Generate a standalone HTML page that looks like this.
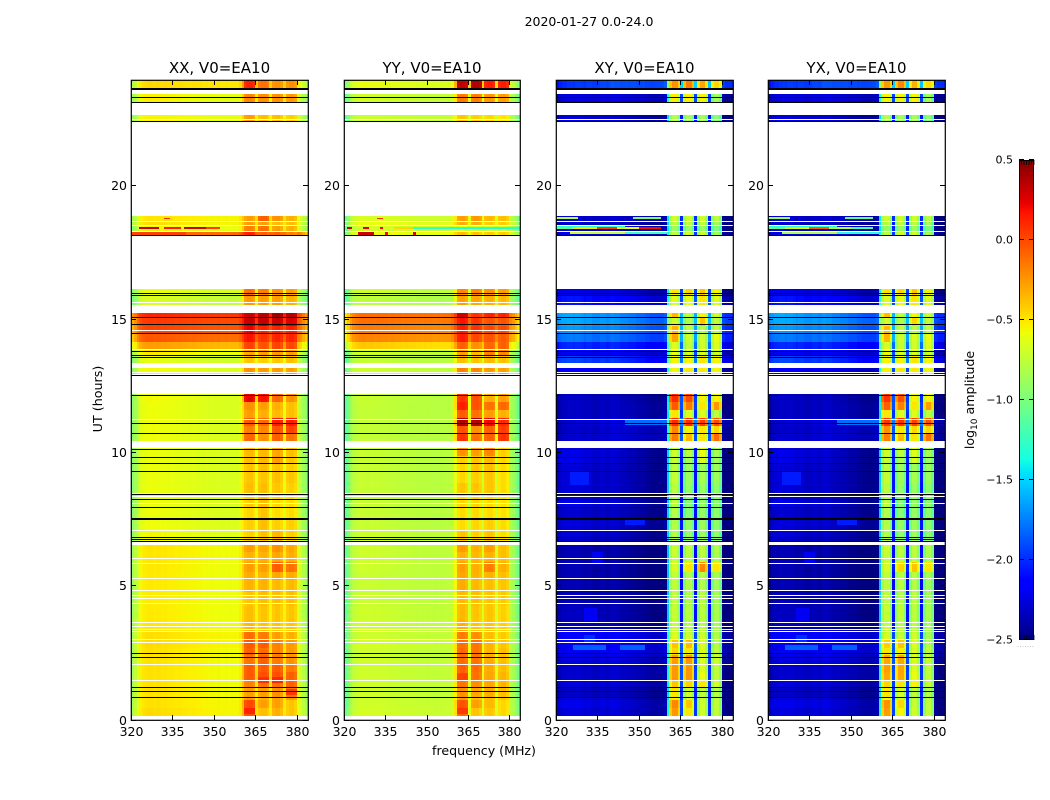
<!DOCTYPE html>
<html>
<head>
<meta charset="utf-8">
<title>2020-01-27 0.0-24.0</title>
<style>
html,body{margin:0;padding:0;background:#fff;}
svg{display:block;}
text{font-family:"DejaVu Sans","Liberation Sans",sans-serif;fill:#000;}
</style>
</head>
<body>
<svg id="chart" xmlns="http://www.w3.org/2000/svg" width="1050" height="800" viewBox="0 0 1050 800">
  <rect x="0" y="0" width="1050" height="800" fill="#fff"/>
  <text x="589" y="26" font-size="12.5" text-anchor="middle">2020-01-27 0.0-24.0</text>
  <text x="0" y="0" font-size="12.7" text-anchor="middle" transform="translate(102,399) rotate(-90)">UT (hours)</text>
  <text x="484" y="755" font-size="12.6" text-anchor="middle">frequency (MHz)</text>
  <text x="0" y="0" font-size="12.6" text-anchor="middle" transform="translate(974,400) rotate(-90)">log<tspan font-size="9" dy="3">10</tspan><tspan dy="-3"> amplitude</tspan></text>
</svg>
<script>
// ---- shared axes data ----
const panelTitles = ["XX, V0=EA10", "YY, V0=EA10", "XY, V0=EA10", "YX, V0=EA10"];
const xTickValues = [320, 335, 350, 365, 380];
const yTickValues = [0, 5, 10, 15, 20];
const colorbarTicks = [-2.5, -2.0, -1.5, -1.0, -0.5, 0.0, 0.5];
const colorbarTickLabels = ["\u22122.5", "\u22122.0", "\u22121.5", "\u22121.0", "\u22120.5", "0.0", "0.5"];

// ---- time rows (UT hour at which each row starts); last row ends at 24 ----
const rowStarts = [.15,.45,.75,.86,1.2,1.5,1.8,2.1,2.44,2.7,3.0,3.3,3.75,4.27,4.8,5.25,5.55,5.92,6.3,6.71,7.12,7.54,7.99,8.44,8.89,9.34,9.64,9.9,10.24,10.46,10.76,11.02,11.32,11.62,11.92,12.22,12.97,13.2,13.39,13.65,13.91,14.17,14.47,14.77,15.07,15.26,15.52,15.9,16.2,18.19,18.33,18.56,18.67,18.9,22.46,22.7,23.17,23.47,23.7];

// ---- log10 amplitude per row: [320 MHz level, 360 MHz level, band1, band2, band3, band4] ----
const xxRows = [
[-.48,-.56,-.05,-.4,-.35,-.42],[-.5,-.56,-.02,-.3,-.3,-.42],[-.5,-.58,-.3,-.36,-.3,-.28],[-.5,-.58,-.3,-.3,-.25,-.15],[-.5,-.58,-.2,-.16,-.14,-.1],
[-.5,-.58,-.08,-.04,-.04,-.1],[-.5,-.58,-.08,-.08,-.08,-.18],[-.5,-.58,-.16,-.1,-.18,-.26],[-.49,-.58,-.1,-.14,-.2,-.28],[-.48,-.56,-.08,-.08,-.2,-.28],
[-.49,-.56,-.14,-.18,-.3,-.35],[-.52,-.58,-.38,-.42,-.42,-.42],[-.53,-.59,-.4,-.42,-.42,-.42],[-.54,-.59,-.42,-.4,-.4,-.4],[-.53,-.59,-.36,-.36,-.38,-.38],
[-.53,-.59,-.34,-.36,-.32,-.34],[-.52,-.59,-.3,-.3,-.08,-.15],[-.52,-.58,-.36,-.36,-.32,-.35],[-.51,-.58,-.3,-.32,-.25,-.33],[-.58,-.64,-.46,-.42,-.38,-.45],
[-.6,-.65,-.45,-.4,-.45,-.45],[-.6,-.66,-.48,-.42,-.5,-.5],[-.61,-.66,-.45,-.4,-.48,-.5],[-.61,-.66,-.4,-.4,-.42,-.45],[-.61,-.66,-.42,-.42,-.4,-.42],
[-.61,-.66,-.42,-.4,-.42,-.45],[-.61,-.66,-.4,-.38,-.3,-.42],[-.61,-.66,-.38,-.38,-.32,-.4],null,[-.6,-.66,-.12,-.25,-.1,-.15],
[-.6,-.66,-.2,-.22,-.05,.0],[-.6,-.66,-.08,-.12,.12,.12],[-.6,-.66,-.3,-.35,-.38,-.4],[-.6,-.66,-.25,-.3,-.35,-.4],[-.58,-.66,.2,.15,-.12,-.25],
null,[-.58,-.66,-.25,-.28,-.28,-.3],null,[-.62,-.7,-.42,-.45,-.42,-.4],[-.52,-.6,-.32,-.3,-.28,-.3],
[-.28,-.36,.0,-.05,.0,-.02],[-.06,-.12,.15,.05,.1,.1],[.0,-.04,.2,.1,.1,.12],[.03,.0,.3,.3,.3,.25],[.1,.06,.28,.32,.4,.35],
null,[-.68,-.75,-.28,-.3,-.3,-.35],[-.62,-.68,-.15,-.2,-.25,-.3],null,[-.12,-.1,.1,-.1,-.1,-.2],
[-.58,-.6,-.2,-.15,-.3,-.35],[-.5,-.55,-.3,-.3,-.4,-.4],[-.52,-.55,-.3,-.1,-.25,-.35],null,[-.56,-.62,-.3,-.4,-.4,-.45],
null,[-.55,-.62,-.22,-.25,-.25,-.28],null,[-.48,-.5,.1,-.15,-.25,-.25]];

const yyRows = [
[-.7,-.72,-.12,-.42,-.42,-.48],[-.72,-.72,-.05,-.3,-.38,-.48],[-.72,-.74,-.3,-.4,-.4,-.42],[-.72,-.74,-.25,-.32,-.34,-.4],[-.72,-.74,-.16,-.24,-.32,-.37],
[-.72,-.74,-.1,-.16,-.32,-.37],[-.72,-.74,-.1,-.14,-.34,-.4],[-.72,-.74,-.14,-.16,-.34,-.4],[-.72,-.74,-.12,-.16,-.37,-.4],[-.7,-.72,-.14,-.16,-.37,-.42],
[-.72,-.74,-.18,-.24,-.4,-.44],[-.72,-.75,-.35,-.42,-.42,-.46],[-.72,-.75,-.38,-.42,-.42,-.46],[-.74,-.76,-.38,-.4,-.42,-.44],[-.74,-.76,-.34,-.38,-.4,-.42],
[-.74,-.76,-.32,-.36,-.36,-.4],[-.72,-.76,-.3,-.35,-.2,-.35],[-.72,-.76,-.36,-.38,-.36,-.4],[-.72,-.76,-.28,-.36,-.3,-.4],[-.72,-.76,-.42,-.46,-.42,-.5],
[-.74,-.78,-.5,-.48,-.45,-.5],[-.74,-.78,-.5,-.5,-.5,-.52],[-.74,-.78,-.48,-.48,-.5,-.52],[-.74,-.78,-.42,-.42,-.42,-.5],[-.74,-.78,-.48,-.45,-.42,-.5],
[-.74,-.78,-.48,-.42,-.4,-.5],[-.74,-.78,-.45,-.42,-.38,-.48],[-.74,-.78,-.25,-.3,-.22,-.45],null,[-.76,-.78,.05,-.15,-.1,.05],
[-.76,-.78,-.05,-.25,-.1,.02],[-.76,-.78,.35,.35,.18,.08],[-.76,-.78,-.08,-.15,-.3,-.35],[-.76,-.78,.12,-.05,-.15,-.12],[-.74,-.78,.05,-.05,-.35,-.3],
null,[-.72,-.76,-.2,-.22,-.28,-.3],null,[-.76,-.78,-.4,-.42,-.38,-.4],[-.72,-.75,-.3,-.38,-.2,-.22],
[-.42,-.48,-.1,-.25,-.12,-.1],[-.2,-.24,.12,-.02,-.05,-.08],[-.18,-.2,.12,.05,-.02,-.02],[-.14,-.15,.15,.05,-.05,-.05],[-.15,-.12,.28,.05,.1,.1],
null,[-.78,-.82,-.3,-.32,-.35,-.38],[-.72,-.76,-.22,-.2,-.25,-.3],null,[-.62,-.6,-.4,-.42,-.45,-.45],
[-.7,-.72,-.65,-.7,-.7,-.7],[-.62,-.62,-.35,-.35,-.45,-.45],[-.68,-.7,-.3,-.28,-.38,-.4],null,[-.74,-.74,-.42,-.45,-.48,-.52],
null,[-.72,-.74,-.18,-.2,-.28,-.3],null,[-.62,-.65,.3,.35,.12,.12]];

const xyRows = [
[-2.35,-2.35,-.3,-.55,-.75,-.8],[-2.3,-2.35,-.25,-.45,-.75,-.8],[-2.35,-2.4,-.6,-.75,-.8,-.8],[-2.4,-2.4,-.55,-.75,-.8,-.85],[-2.35,-2.35,-.45,-.5,-.55,-.75],
[-2.4,-2.35,-.3,-.3,-.65,-.8],[-2.4,-2.35,-.3,-.3,-.7,-.8],[-2.35,-2.3,-.32,-.3,-.7,-.75],[-2.3,-2.25,-.5,-.55,-.7,-.8],[-2.3,-2.25,-.45,-.42,-.7,-.85],
[-2.25,-2.25,-.7,-.75,-.75,-.85],[-2.42,-2.45,-.78,-.82,-.82,-.88],[-2.42,-2.45,-.78,-.82,-.82,-.88],[-2.45,-2.45,-.8,-.85,-.82,-.9],[-2.45,-2.48,-.8,-.85,-.85,-.92],
[-2.45,-2.48,-.78,-.85,-.82,-.88],[-2.45,-2.48,-.72,-.55,-.25,-.55],[-2.45,-2.48,-.78,-.82,-.82,-.88],[-2.45,-2.48,-.75,-.8,-.8,-.85],[-2.35,-2.42,-.85,-.95,-.92,-.98],
[-2.35,-2.4,-.85,-.95,-.92,-.98],[-2.38,-2.42,-.85,-1.0,-.95,-.98],[-2.32,-2.42,-.82,-1.0,-.95,-.98],[-2.35,-2.42,-.82,-.95,-.95,-.98],[-2.35,-2.42,-.78,-.92,-.88,-.92],
[-2.35,-2.42,-.82,-.92,-.92,-.92],[-2.3,-2.42,-.78,-.88,-.7,-.92],[-2.3,-2.42,-.75,-.8,-.65,-.88],null,[-2.4,-2.3,-.2,-.4,-.55,-.15],
[-2.42,-2.3,-.25,-.6,-.55,-.5],[-2.4,-2.25,.05,.05,.0,-.05],[-2.42,-2.38,-.55,-.7,-.7,-.8],[-2.42,-2.38,-.1,-.2,-.55,-.3],[-2.4,-2.42,.05,-.05,-.6,-.6],
null,[-2.25,-2.3,-.6,-.55,-.55,-.6],null,[-2.0,-2.1,-.6,-.6,-.55,-.6],[-2.3,-2.25,-.65,-.7,-.7,-.75],
[-2.1,-2.1,-.7,-.8,-.75,-.7],[-1.85,-1.9,-.35,-.75,-.75,-.65],[-1.75,-1.85,-.4,-.8,-.85,-.8],[-1.7,-1.8,-.75,-.85,-.45,-.8],[-1.7,-1.85,-.4,-.8,-.6,-.75],
null,[-2.15,-2.25,-.7,-.65,-.55,-.7],[-2.3,-2.35,-.55,-.5,-.45,-.6],null,[-2.35,-2.3,-.8,-.72,-.75,-.9],
[-2.4,-2.35,-.95,-.95,-.95,-1.05],[-2.4,-2.4,-.82,-.8,-.82,-.92],[-2.4,-2.35,-.75,-.75,-.75,-.82],null,[-2.35,-2.4,-.85,-.9,-.9,-1.0],
null,[-2.35,-2.3,-.58,-.58,-.6,-.92],null,[-2.1,-1.85,-.28,-.22,-.35,-.5]];

const yxRows = [
[-2.35,-2.35,-.32,-.6,-.75,-.8],[-2.3,-2.35,-.28,-.5,-.78,-.8],[-2.35,-2.4,-.62,-.78,-.8,-.82],[-2.4,-2.4,-.55,-.72,-.8,-.85],[-2.35,-2.35,-.5,-.55,-.6,-.78],
[-2.4,-2.35,-.35,-.35,-.65,-.8],[-2.4,-2.35,-.32,-.35,-.7,-.8],[-2.35,-2.3,-.35,-.35,-.7,-.78],[-2.3,-2.25,-.55,-.58,-.72,-.8],[-2.3,-2.25,-.48,-.45,-.7,-.85],
[-2.25,-2.25,-.72,-.78,-.75,-.88],[-2.42,-2.45,-.78,-.82,-.82,-.88],[-2.42,-2.45,-.78,-.8,-.82,-.88],[-2.45,-2.45,-.8,-.85,-.82,-.9],[-2.45,-2.48,-.8,-.82,-.85,-.92],
[-2.45,-2.48,-.78,-.82,-.82,-.88],[-2.45,-2.48,-.72,-.5,-.45,-.55],[-2.45,-2.48,-.78,-.82,-.82,-.88],[-2.45,-2.48,-.75,-.8,-.8,-.85],[-2.35,-2.42,-.85,-.95,-.92,-.98],
[-2.35,-2.4,-.85,-.95,-.92,-.98],[-2.38,-2.42,-.85,-1.0,-.95,-.98],[-2.32,-2.42,-.82,-1.0,-.95,-.98],[-2.35,-2.42,-.82,-.95,-.95,-.98],[-2.35,-2.42,-.78,-.92,-.88,-.92],
[-2.35,-2.42,-.82,-.92,-.92,-.92],[-2.3,-2.42,-.78,-.88,-.72,-.92],[-2.3,-2.42,-.75,-.8,-.68,-.88],null,[-2.4,-2.3,-.22,-.42,-.55,-.18],
[-2.42,-2.3,-.28,-.55,-.5,-.5],[-2.4,-2.25,.02,.02,-.02,-.08],[-2.42,-2.38,-.55,-.7,-.7,-.8],[-2.42,-2.38,-.12,-.22,-.55,-.32],[-2.4,-2.42,.02,-.08,-.6,-.6],
null,[-2.25,-2.3,-.6,-.55,-.55,-.6],null,[-2.0,-2.1,-.6,-.6,-.55,-.6],[-2.3,-2.25,-.65,-.7,-.7,-.75],
[-2.1,-2.1,-.72,-.78,-.75,-.7],[-1.85,-1.9,-.4,-.75,-.7,-.65],[-1.75,-1.85,-.42,-.8,-.82,-.8],[-1.7,-1.8,-.75,-.85,-.5,-.8],[-1.7,-1.85,-.42,-.78,-.62,-.75],
null,[-2.15,-2.25,-.7,-.65,-.55,-.7],[-2.3,-2.35,-.55,-.5,-.45,-.6],null,[-2.35,-2.3,-.8,-.72,-.75,-.9],
[-2.4,-2.35,-.95,-.95,-.95,-1.05],[-2.4,-2.4,-.82,-.8,-.82,-.92],[-2.4,-2.35,-.75,-.75,-.75,-.82],null,[-2.35,-2.4,-.85,-.9,-.9,-1.0],
null,[-2.35,-2.3,-.6,-.6,-.6,-.92],null,[-2.1,-1.85,-.3,-.25,-.38,-.52]];

// ---- per-channel (1 MHz) spectral shape added to the row level, 320..383 MHz ----
const autoShape = [-.35,-.25,-.12,-.04,0,.02,.03,.03,.02,.03,
 .03,.02,.03,.02,.02,.02,.01,.02,.01,.01,
 .01,0,.01,0,0,0,-.01,0,-.01,0,
 -.01,0,-.01,-.01,0,-.01,0,0,0,.05,
 .08,0,.03,.03,-.02,0,0,.03,.03,-.02,
 0,0,.03,.03,-.02,0,0,.03,.03,-.02,
 -.05,-.1,-.2,-.3];
const crossShape = [0,.05,.08,.08,.1,.1,.08,.1,.1,.08,
 .05,.08,.08,.05,.05,.05,.08,.08,.05,.08,
 .1,.08,.08,.05,.05,.05,.03,.03,.03,0,
 0,0,-.03,-.03,-.05,-.05,-.05,-.05,-.05,0,
 .75,-.12,.05,.05,-.15,0,-.15,.05,.05,-.15,
 0,-.15,.05,.05,-.15,0,-.15,.05,.05,-.15,
 -.1,-.15,-.15,-.15];

// ---- narrow streaks and patches: [hour from, hour to, MHz from, MHz to, value] ----
const xxStreaks = [[18.42,18.5,323,330,.3],[18.42,18.5,332,338,.15],[18.42,18.5,339,347,.3],[18.42,18.5,347,352,.05],[18.78,18.84,332,334,.1],[18.2,18.3,320,340,.02],[.22,.45,361,365,.12],[1.4,1.62,366,370,.08],[1.4,1.62,371,375,.1],[.95,1.15,376,380,.05]];
const yyStreaks = [[18.42,18.5,321,323,.3],[18.42,18.5,327,329,.25],[18.42,18.5,333,334,.2],[18.42,18.5,338,345,-.45],[18.42,18.5,345,358,-1.25],[18.42,18.5,358,384,-1.3],[18.2,18.3,325,331,.3],[18.2,18.3,335,336,.2],[18.2,18.3,345,346,.25],[18.78,18.84,332,334,.1],[1.5,1.75,361,365,.02],[.22,.45,361,365,.05]];
const xyStreaks = [[18.42,18.5,320,326,-1.1],[18.42,18.5,326,335,-.5],[18.42,18.5,335,342,.05],[18.42,18.5,342,350,-.6],[18.42,18.5,350,358,.2],[18.5,18.56,320,345,-1.3],[18.22,18.3,325,345,-.7],[18.22,18.3,345,360,-1.2],[18.8,18.86,320,328,-.8],[18.8,18.86,348,358,-1.0],[2.62,2.8,326,338,-1.85],[2.62,2.8,343,352,-1.85],[2.9,3.2,330,334,-2.0],[8.8,9.3,325,332,-2.05],[11.05,11.3,345,360,-1.8],[7.3,7.5,345,352,-2.05],[5.9,6.3,333,337,-2.2],[3.7,4.2,330,335,-2.2]];
const yxStreaks = [[18.42,18.5,320,326,-1.1],[18.42,18.5,326,335,-.6],[18.42,18.5,335,342,-.05],[18.42,18.5,342,350,-.8],[18.42,18.5,350,358,-1.2],[18.5,18.56,320,345,-1.3],[18.22,18.3,325,345,-.8],[18.22,18.3,345,360,-1.3],[18.8,18.86,320,328,-.9],[18.8,18.86,348,358,-1.1],[2.62,2.8,326,338,-1.85],[2.62,2.8,343,352,-1.85],[2.9,3.2,330,334,-2.0],[8.8,9.3,325,332,-2.05],[11.05,11.3,345,360,-1.8],[7.3,7.5,345,352,-2.05],[5.9,6.3,333,337,-2.2],[3.7,4.2,330,335,-2.2]];

// ---- flagged data (white) and plotted black lines, in UT hours ----
const flaggedBands = [[0,.14],[6.57,6.69],[10.21,10.46],[12.26,12.95],[13.2,13.37],[15.26,15.5],[16.18,18.19],[18.91,22.46],[22.69,23.17],[23.48,23.62]];
const flaggedLines = [8.53,8.4,8.13,7.14,6.07,5.87,5.31,4.86,4.67,4.56,4.37,3.66,3.52,3.43,3.32,3.02,2.92,2.1,1.5,11.27,13.91,14.62,15.56,15.69,13.05,22.53,18.7,18.56,18.35];
const blackLines = [23.36,23.17,22.46,18.19,16.01,15.95,15.12,14.85,14.51,13.85,13.68,13.61,12.95,12.2,11.14,10.76,10.17,9.87,9.62,9.34,8.49,8.27,8.0,6.88,6.79,6.71,2.53,2.36,1.22,1.07,.86];
const thickBlackLines = [23.7,7.57];

// ---- layout and scales ----
const svg = document.getElementById('chart');
const NS = 'http://www.w3.org/2000/svg';
const panelLefts = [131, 344, 556, 768];
const panelRights = [308, 520, 733, 945];
const plotTop = 80, plotBottom = 720;
const cbLeft = 1019, cbRight = 1034, cbTop = 160, cbBottom = 640;

function yScale(h){ return plotBottom - (h / 24) * (plotBottom - plotTop); }
function xScale(i, mhz){ return panelLefts[i] + ((mhz - 320) / 64) * (panelRights[i] - panelLefts[i]); }
function cbScale(v){ return cbBottom - ((v + 2.5) / 3) * (cbBottom - cbTop); }

function interp(stops, t){
  for (let k = 1; k < stops.length; k++) {
    if (t <= stops[k][0]) {
      const a = stops[k-1], b = stops[k];
      return a[1] + (b[1] - a[1]) * (t - a[0]) / (b[0] - a[0]);
    }
  }
  return stops[stops.length-1][1];
}
const jetR = [[0,0],[.35,0],[.66,1],[.89,1],[1,.5]];
const jetG = [[0,0],[.125,0],[.375,1],[.64,1],[.91,0],[1,0]];
const jetB = [[0,.5],[.11,1],[.34,1],[.65,0],[1,0]];
function jet(v){
  const t = Math.max(0, Math.min(1, (v + 2.5) / 3));
  return 'rgb(' + Math.round(255*interp(jetR,t)) + ',' + Math.round(255*interp(jetG,t)) + ',' + Math.round(255*interp(jetB,t)) + ')';
}

function add(parent, tag, attrs){
  const el = document.createElementNS(NS, tag);
  for (const k in attrs) el.setAttribute(k, attrs[k]);
  parent.appendChild(el);
  return el;
}

// value of channel mhz in a row
function cellValue(row, mhz, shape, gapMix, edgeMix){
  const L = row[0] + (row[1] - row[0]) * (Math.min(mhz, 360) - 320) / 40;
  const s = shape[mhz - 320];
  if (mhz <= 359 || mhz >= 380) return L + s;
  if (mhz === 360) return L + s + edgeMix * (row[2] - L);
  if (mhz <= 364) return row[2] + s;
  if (mhz === 365) return L + gapMix * ((row[2] + row[3]) / 2 - L);
  if (mhz <= 369) return row[3] + s;
  if (mhz === 370) return L + gapMix * ((row[3] + row[4]) / 2 - L);
  if (mhz <= 374) return row[4] + s;
  if (mhz === 375) return L + gapMix * ((row[4] + row[5]) / 2 - L);
  return row[5] + s;
}

const panelRows = [xxRows, yyRows, xyRows, yxRows];
const panelShapes = [autoShape, autoShape, crossShape, crossShape];
const panelStreaks = [xxStreaks, yyStreaks, xyStreaks, yxStreaks];
const panelGapMix = [.25, .25, .22, .22];
const panelEdgeMix = [.25, .25, .1, .1];

panelTitles.forEach(function(title, p){
  const x0 = panelLefts[p], x1 = panelRights[p];
  const g = add(svg, 'g', {});
  
  

  const cells = add(g, 'g', {'shape-rendering': 'crispEdges'});
  
  

  panelRows[p].forEach(function(row, r){
    if (!row) return;
    const hStart = rowStarts[r];
    const hEnd = r + 1 < rowStarts.length ? rowStarts[r + 1] : 24;
    const top = Math.round(yScale(hEnd)), bottom = Math.round(yScale(hStart));
    for (let mhz = 320; mhz < 384; mhz++) {
      const a = Math.round(xScale(p, mhz)), b = Math.round(xScale(p, mhz + 1));
      const cell = add(cells, 'rect', {x: a, y: top, width: b - a, height: bottom - top, fill: jet(cellValue(row, mhz, panelShapes[p], panelGapMix[p], panelEdgeMix[p]))});
      
      
    }
  });

  panelStreaks[p].forEach(function(st){
    const a = Math.round(xScale(p, st[2])), b = Math.round(xScale(p, st[3]));
    const top = Math.round(yScale(st[1])), bottom = Math.round(yScale(st[0]));
    const streak = add(cells, 'rect', {x: a, y: top, width: b - a, height: Math.max(1, bottom - top), fill: jet(st[4])});
    
    
  });

  flaggedBands.forEach(function(band){
    const top = Math.round(yScale(band[1])), bottom = Math.round(yScale(band[0]));
    const w = add(cells, 'rect', {x: x0, y: top, width: x1 - x0, height: bottom - top, fill: '#fff'});
    
    
  });
  flaggedLines.forEach(function(h){
    const w = add(cells, 'rect', {x: x0, y: Math.round(yScale(h)), width: x1 - x0, height: 1, fill: '#fff'});
    
    
  });
  blackLines.forEach(function(h){
    const l = add(cells, 'rect', {x: x0, y: Math.round(yScale(h)), width: x1 - x0, height: 1, fill: '#000'});
    
    
  });
  thickBlackLines.forEach(function(h){
    const l = add(cells, 'rect', {x: x0, y: Math.round(yScale(h)), width: x1 - x0, height: 2, fill: '#000'});
    
    
  });

  // ticks and labels
  xTickValues.forEach(function(v){
    const x = Math.round(xScale(p, v)) + .5;
    const t1 = add(g, 'line', {x1: x, x2: x, y1: plotBottom, y2: plotBottom - 5, stroke: '#000', 'stroke-width': 1});
    
    
    const t2 = add(g, 'line', {x1: x, x2: x, y1: plotTop, y2: plotTop + 5, stroke: '#000', 'stroke-width': 1});
    
    
    const lb = add(g, 'text', {x: x, y: 736, 'font-size': 12.5, 'text-anchor': 'middle'});
    lb.textContent = String(v);
    
    
  });
  yTickValues.forEach(function(v){
    const y = Math.floor(yScale(v)) + (v === 0 ? .5 : -.5);
    const t1 = add(g, 'line', {x1: x0, x2: x0 + 5, y1: y, y2: y, stroke: '#000', 'stroke-width': 1});
    
    
    const t2 = add(g, 'line', {x1: x1, x2: x1 - 5, y1: y, y2: y, stroke: '#000', 'stroke-width': 1});
    
    
    const lb = add(g, 'text', {x: x0 - 4, y: y + 4.5, 'font-size': 12.5, 'text-anchor': 'end'});
    lb.textContent = String(v);
    
    
  });

  const frame = add(g, 'rect', {x: x0 + .3, y: plotTop + .3, width: x1 - x0, height: plotBottom - plotTop, fill: 'none', stroke: '#000', 'stroke-width': 1.2});
  
  

  const tl = add(g, 'text', {x: (x0 + x1) / 2, y: 73, 'font-size': 15, 'text-anchor': 'middle'});
  tl.textContent = title;
  
  
});

// ---- colorbar ----
const cb = add(svg, 'g', {});


const cbSteps = 240;
for (let i = 0; i < cbSteps; i++) {
  const v0 = -2.5 + 3 * i / cbSteps, v1 = -2.5 + 3 * (i + 1) / cbSteps;
  const top = Math.round(cbScale(v1)), bottom = Math.round(cbScale(v0));
  const seg = add(cb, 'rect', {x: cbLeft, y: top, width: cbRight - cbLeft, height: bottom - top, fill: jet((v0 + v1) / 2), 'shape-rendering': 'crispEdges'});
  
  
}
colorbarTicks.forEach(function(v, i){
  const y = Math.round(cbScale(v)) - .5;
  const t1 = add(cb, 'line', {x1: cbLeft, x2: cbLeft + 5, y1: y, y2: y, stroke: '#000', 'stroke-width': 1});
  
  
  const t2 = add(cb, 'line', {x1: cbRight, x2: cbRight - 5, y1: y, y2: y, stroke: '#000', 'stroke-width': 1});
  
  
  const lb = add(cb, 'text', {x: cbLeft - 6, y: y + 4, 'font-size': 11, 'text-anchor': 'end'});
  lb.textContent = colorbarTickLabels[i];
  
  
});
for (let k = 0; k <= 5; k++) {
  const x = cbLeft + 2.5 + k * 2.5;
  const a = add(cb, 'line', {x1: x, x2: x, y1: cbTop, y2: cbTop + 5, stroke: '#000', 'stroke-width': .8});
  
  
  const b = add(cb, 'line', {x1: x, x2: x, y1: cbBottom, y2: cbBottom - 5, stroke: '#000', 'stroke-width': .8});
  
  
}
const cbFrame = add(cb, 'rect', {x: cbLeft + .5, y: cbTop + .5, width: cbRight - cbLeft - 1, height: cbBottom - cbTop - 1, fill: 'none', stroke: '#000', 'stroke-width': 1});


const cbDots = add(cb, 'text', {x: cbLeft - 2, y: 647, 'font-size': 6, 'letter-spacing': '.6'});
cbDots.textContent = '.......';
cbDots.style.fill = '#888';


</script>
</body>
</html>
